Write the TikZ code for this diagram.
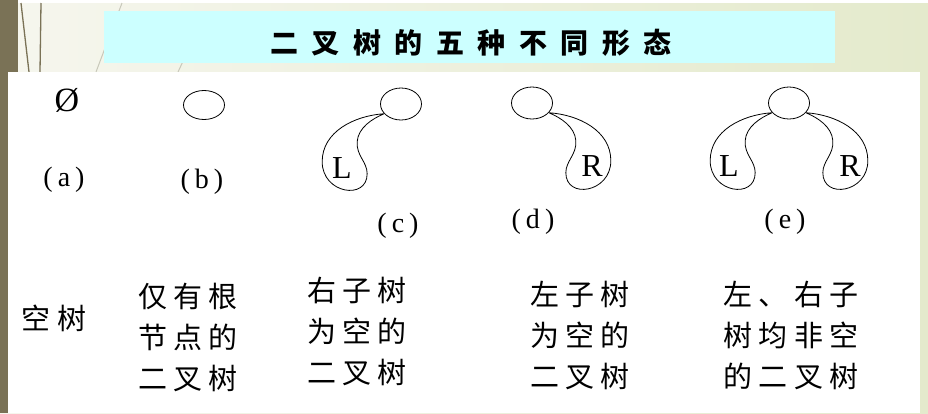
\documentclass[tikz,border=0pt]{standalone}
\usepackage{fontspec}
\setmainfont{Liberation Serif}
\newfontfamily\cjk{Noto Sans CJK SC}
\usetikzlibrary{shapes.geometric}
\definecolor{barolive}{RGB}{122,114,86}
\definecolor{bgL}{RGB}{246,246,238}
\definecolor{bgR}{RGB}{228,234,204}
\definecolor{titlecyan}{RGB}{204,255,255}
\definecolor{decoline}{RGB}{200,200,186}
\newcommand{\tg}{\hspace{0.48em}}
\newcommand{\bg}{\hspace{0.22em}}
\begin{document}
\begin{tikzpicture}[x=1pt,y=-1pt,
  rootnode/.style={ellipse, draw, line width=0.8pt, minimum width=41pt, minimum height=32pt, inner sep=0pt},
  loopline/.style={line width=0.8pt},
  letter/.style={font=\fontsize{32}{32}\selectfont, inner sep=0pt},
  caplabel/.style={font=\fontsize{28}{28}\selectfont, inner sep=0pt},
  desc/.style={font=\cjk\fontsize{29}{41}\selectfont, align=center, inner sep=0pt}]
\useasboundingbox (0,0) rectangle (928,413);
% slide background
\fill[left color=bgL, right color=bgR] (0,0) rectangle (928,413);
\fill[white] (18,0) rectangle (928,3);
\fill[barolive] (0,0) rectangle (18,72);
\fill[barolive] (0,72) rectangle (8,413);
\draw[barolive, line width=1.3pt] (21,3) -- (29,72);
\draw[barolive, line width=1.3pt] (41,3) -- (40,72);
\draw[decoline, line width=1pt] (122,3) -- (96,72);
\draw[decoline, line width=1pt] (205,14) -- (178,72);
% content area
\fill[white] (8,72) rectangle (920,413);
% title
\fill[titlecyan] (104,11) rectangle (835,63);
\node[font=\cjk\bfseries\fontsize{28}{28}\selectfont, inner sep=0pt] (title) at (471,43) {二\tg 叉\tg 树\tg 的\tg 五\tg 种\tg 不\tg 同\tg 形\tg 态};
% (a)
\node[font=\fontsize{34}{34}\selectfont, inner sep=0pt] (empty) at (67,100) {Ø};
\node[caplabel] (la) at (64,180) {(\hspace{5pt}a\hspace{5pt})};
% (b)
\node[rootnode, minimum height=29pt] (rb) at (204,105) {};
\node[caplabel] (lb) at (202,182) {(\hspace{5pt}b\hspace{5pt})};
% (c)
\node[rootnode] (rc) at (401,104) {};
\begin{scope}[shift={(rc.210)}]
  \draw[loopline] (0,0) .. controls (-30,2) and (-62,18) .. (-62,48)
    .. controls (-62,80) and (-17,87) .. (-17,60)
    .. controls (-17,48) and (-28,42) .. (-27,28)
    .. controls (-26,14) and (-12,5) .. (0,0);
\end{scope}
\node[letter] (Lc) at (342,168) {L};
\node[caplabel] (lc) at (398,226) {(\hspace{5pt}c\hspace{5pt})};
% (d)
\node[rootnode] (rd) at (532,103) {};
\begin{scope}[shift={(rd.-30)}, xscale=-1]
  \draw[loopline] (0,0) .. controls (-30,2) and (-62,18) .. (-62,48)
    .. controls (-62,80) and (-17,87) .. (-17,60)
    .. controls (-17,48) and (-28,42) .. (-27,28)
    .. controls (-26,14) and (-12,5) .. (0,0);
\end{scope}
\node[letter] (Rd) at (592,166) {R};
\node[caplabel] (ld) at (533,222) {(\hspace{5pt}d\hspace{5pt})};
% (e)
\node[rootnode] (re) at (789,103) {};
\begin{scope}[shift={(re.210)}]
  \draw[loopline] (0,0) .. controls (-30,2) and (-62,18) .. (-62,48)
    .. controls (-62,80) and (-17,87) .. (-17,60)
    .. controls (-17,48) and (-28,42) .. (-27,28)
    .. controls (-26,14) and (-12,5) .. (0,0);
\end{scope}
\begin{scope}[shift={(re.-30)}, xscale=-1]
  \draw[loopline] (0,0) .. controls (-30,2) and (-62,18) .. (-62,48)
    .. controls (-62,80) and (-17,87) .. (-17,60)
    .. controls (-17,48) and (-28,42) .. (-27,28)
    .. controls (-26,14) and (-12,5) .. (0,0);
\end{scope}
\node[letter] (Le) at (729,166) {L};
\node[letter] (Re) at (850,166) {R};
\node[caplabel] (le) at (785,222) {(\hspace{5pt}e\hspace{5pt})};
% descriptions
\node[desc] (da) at (54,318) {空\bg 树};
\node[desc] (db) at (188,337) {仅\bg 有\bg 根\\节\bg 点\bg 的\\二\bg 叉\bg 树};
\node[desc] (dc) at (357,331) {右\bg 子\bg 树\\为\bg 空\bg 的\\二\bg 叉\bg 树};
\node[desc] (dd) at (580,335) {左\bg 子\bg 树\\为\bg 空\bg 的\\二\bg 叉\bg 树};
\node[desc] (de) at (791,335) {左\bg 、\bg 右\bg 子\\树\bg 均\bg 非\bg 空\\的\bg 二\bg 叉\bg 树};
\end{tikzpicture}
\end{document}
